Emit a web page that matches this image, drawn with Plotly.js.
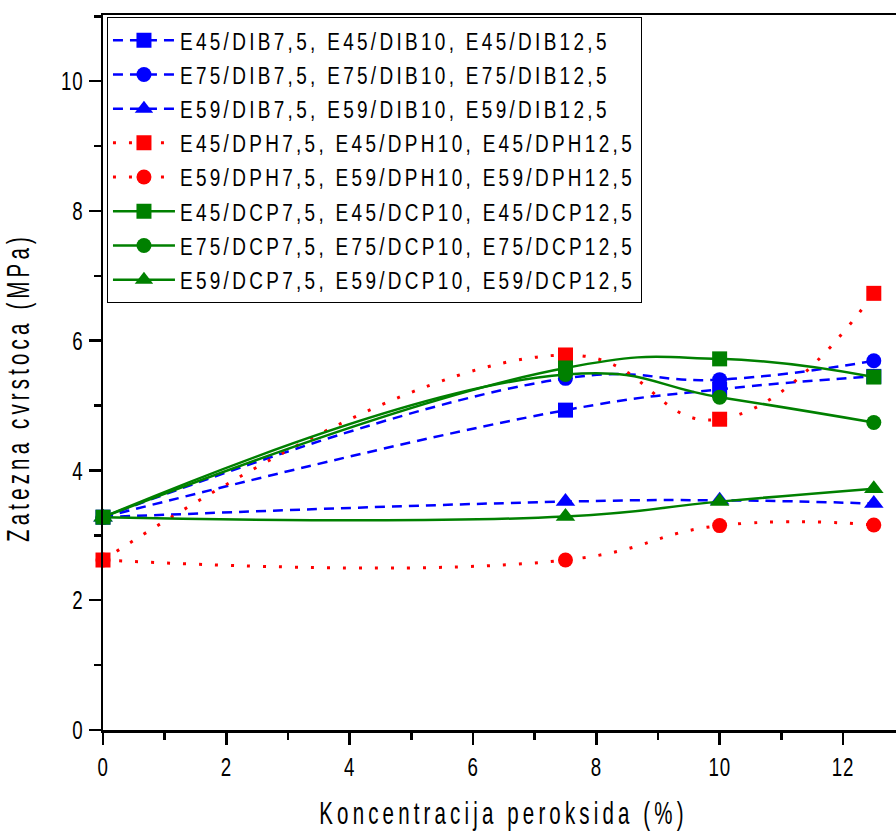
<!DOCTYPE html>
<html>
<head>
<meta charset="utf-8">
<script src="https://cdn.plot.ly/plotly-3.0.1.min.js"></script>
<style>
html,body{margin:0;padding:0;background:#fff;}
#chart{width:896px;height:831px;}
.legendtext{letter-spacing:4.2px;}
.xtitle,.ytitle{letter-spacing:6.5px;}
.xtick text,.ytick text{letter-spacing:1px;}
</style>
</head>
<body>
<div id="chart"></div>
<script>
const xVals = [0, 7.5, 10, 12.5];

const names = [
  "E45/DIB7,5, E45/DIB10, E45/DIB12,5",
  "E75/DIB7,5, E75/DIB10, E75/DIB12,5",
  "E59/DIB7,5, E59/DIB10, E59/DIB12,5",
  "E45/DPH7,5, E45/DPH10, E45/DPH12,5",
  "E59/DPH7,5, E59/DPH10, E59/DPH12,5",
  "E45/DCP7,5, E45/DCP10, E45/DCP12,5",
  "E75/DCP7,5, E75/DCP10, E75/DCP12,5",
  "E59/DCP7,5, E59/DCP10, E59/DCP12,5"
];

const e45DIB = [3.28, 4.93, 5.25, 5.45];
const e75DIB = [3.28, 5.42, 5.40, 5.69];
const e59DIB = [3.28, 3.52, 3.54, 3.49];
const e45DPH = [2.62, 5.78, 4.79, 6.73];
const e59DPH = [2.62, 2.62, 3.15, 3.16];
const e45DCP = [3.28, 5.58, 5.72, 5.44];
const e75DCP = [3.28, 5.48, 5.13, 4.74];
const e59DCP = [3.28, 3.29, 3.52, 3.72];

const series = [e45DIB, e75DIB, e59DIB, e45DPH, e59DPH, e45DCP, e75DCP, e59DCP];

const styles = [
  {c:'#0000FF', d:'10px,7px', s:'square', w:2.5},
  {c:'#0000FF', d:'10px,7px', s:'circle', w:2.5},
  {c:'#0000FF', d:'10px,7px', s:'triangle-up', w:2.5},
  {c:'#FF0000', d:'3px,13px', s:'square', w:3},
  {c:'#FF0000', d:'3px,13px', s:'circle', w:3},
  {c:'#008000', d:'solid', s:'square', w:2.5},
  {c:'#008000', d:'solid', s:'circle', w:2.5},
  {c:'#008000', d:'solid', s:'triangle-up', w:2.5}
];

const traces = series.map((y, i) => ({
  type: 'scatter',
  mode: 'lines+markers',
  name: names[i],
  x: xVals,
  y: y,
  line: {color: styles[i].c, dash: styles[i].d, width: styles[i].w, shape: 'spline', smoothing: 1.3},
  marker: {color: styles[i].c, symbol: styles[i].s, size: styles[i].s === 'triangle-up' ? 17 : 15, line: {width: 0}},
  cliponaxis: false
}));

const fontName = '"Liberation Sans", Arial, sans-serif';

const layout = {
  width: 896,
  height: 831,
  margin: {l: 103, r: 0, t: 15, b: 101},
  paper_bgcolor: '#fff',
  plot_bgcolor: '#fff',
  showlegend: true,
  hovermode: false,
  font: {family: fontName, color: '#000'},
  legend: {
    x: 0.005, y: 0.997, xanchor: 'left', yanchor: 'top',
    bgcolor: '#fff', bordercolor: '#000', borderwidth: 1,
    font: {family: fontName, size: 24, color: '#000'},
    itemwidth: 62,
    traceorder: 'normal'
  },
  xaxis: {
    range: [0, 12.86],
    showgrid: false, zeroline: false,
    showline: true, linecolor: '#000', linewidth: 2.5,
    mirror: true,
    ticks: 'outside', ticklen: 12, tickwidth: 2.5, tickcolor: '#000',
    tickvals: [0, 2, 4, 6, 8, 10, 12],
    minor: {tickvals: [1, 3, 5, 7, 9, 11], ticks: 'outside', ticklen: 7, tickwidth: 2.5, tickcolor: '#000'},
    tickfont: {family: fontName, size: 26, color: '#000'},
    title: {text: 'Koncentracija peroksida (%)', font: {family: fontName, size: 32, color: '#000'}, standoff: 23}
  },
  yaxis: {
    range: [0, 11.02],
    showgrid: false, zeroline: false,
    showline: true, linecolor: '#000', linewidth: 2.5,
    ticks: 'outside', ticklen: 12, tickwidth: 2.5, tickcolor: '#000',
    tickvals: [0, 2, 4, 6, 8, 10],
    minor: {tickvals: [1, 3, 5, 7, 9, 11], ticks: 'outside', ticklen: 7, tickwidth: 2.5, tickcolor: '#000'},
    tickfont: {family: fontName, size: 26, color: '#000'},
    title: {text: 'Zatezna cvrstoca (MPa)', font: {family: fontName, size: 32, color: '#000'}, standoff: 16}
  }
};

// horizontally condense a text element about an anchor point (keeps it real text)
function squeeze(el, sx, anchor, shift) {
  const bb = el.getBBox();
  const ox = anchor === 'start' ? bb.x : (anchor === 'end' ? bb.x + bb.width : bb.x + bb.width / 2);
  const oy = bb.y + bb.height / 2;
  const t = el.getAttribute('transform') || '';
  el.setAttribute('transform', t + ' translate(' + (ox + (shift || 0)) + ',' + oy + ') scale(' + sx + ',1) translate(' + (-ox) + ',' + (-oy) + ')');
}

Plotly.newPlot('chart', traces, layout, {displayModeBar: false, staticPlot: true}).then(gd => {
  gd.querySelectorAll('.legendtext').forEach(el => squeeze(el, 0.79, 'start'));
  gd.querySelectorAll('.xtick > text').forEach(el => squeeze(el, 0.72, 'middle'));
  gd.querySelectorAll('.ytick > text').forEach(el => squeeze(el, 0.72, 'end'));
  gd.querySelectorAll('.xtitle').forEach(el => squeeze(el, 0.64, 'middle', 4));
  gd.querySelectorAll('.ytitle').forEach(el => squeeze(el, 0.64, 'middle', -15));
  // shrink legend box to condensed text
  const bg = gd.querySelector('.legend rect.bg');
  if (bg) {
    const left = bg.getBoundingClientRect().left;
    let maxRight = 0;
    gd.querySelectorAll('.legendtext').forEach(el => {
      maxRight = Math.max(maxRight, el.getBoundingClientRect().right);
    });
    bg.setAttribute('width', Math.round(maxRight - left + 6));
  }
});
</script>
</body>
</html>
